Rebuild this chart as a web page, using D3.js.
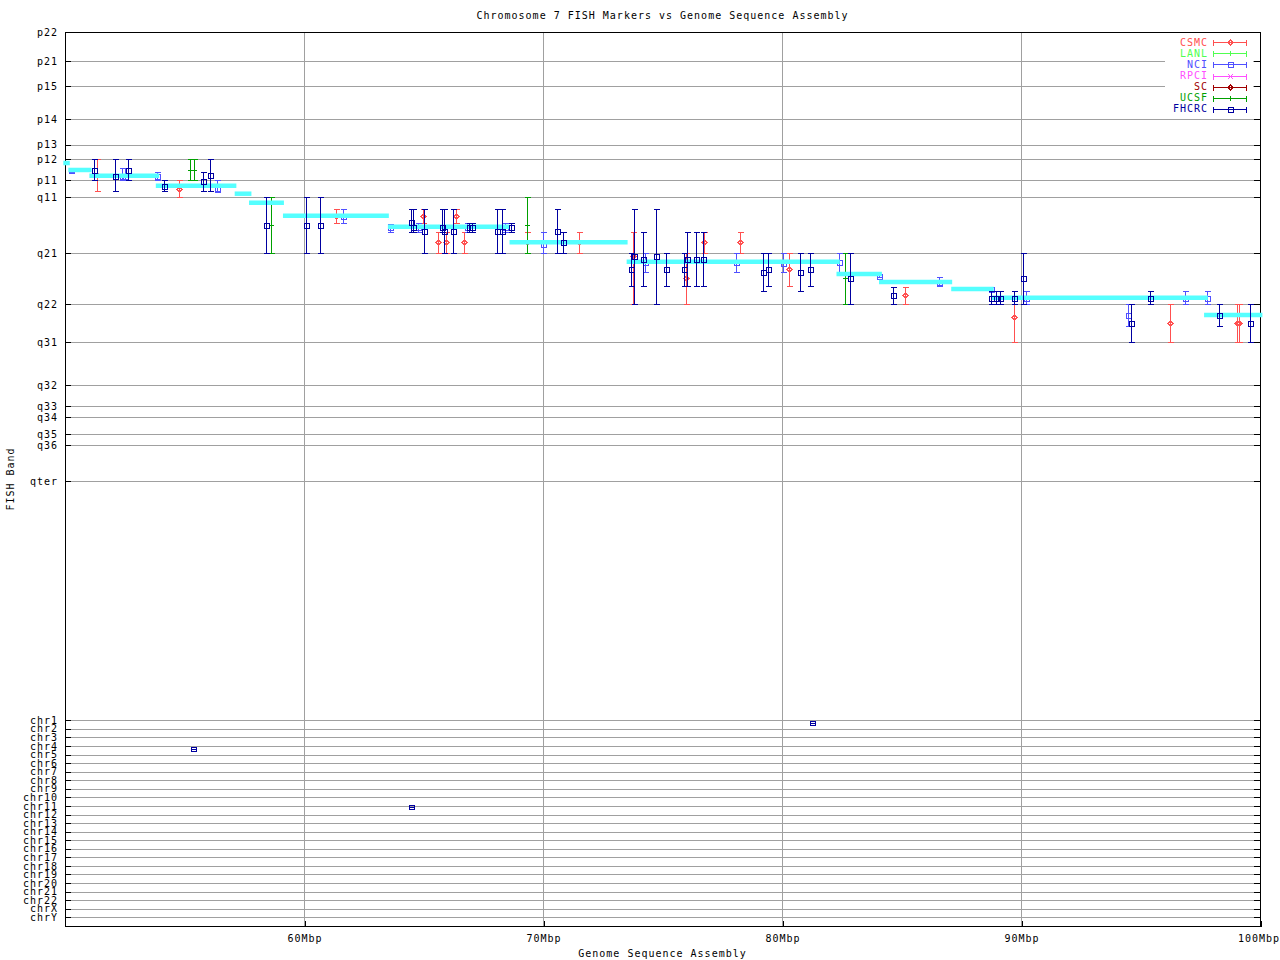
<!DOCTYPE html>
<html><head><meta charset="utf-8">
<script src="https://cdn.jsdelivr.net/npm/d3@7"></script>
<style>
body{margin:0;background:#fff}
text{font-family:"DejaVu Sans Mono",monospace;font-size:10px;letter-spacing:1px}
</style>
</head><body>
<svg id="chart" width="1280" height="960"></svg>
<script>
// ---------------- DATA ----------------
const title = "Chromosome 7 FISH Markers vs Genome Sequence Assembly";
const xLabel = "Genome Sequence Assembly";
const yLabel = "FISH Band";
// band tick labels and their position (percent of chromosome length)
const bandNames = ["p22","p21","p15","p14","p13","p12","p11","q11","q21","q22","q31","q32","q33","q34","q35","q36","qter"];
const bandPos   = [0,6.52,12.09,19.43,25.08,28.33,33.01,36.79,49.25,60.61,69.06,78.63,83.31,85.76,89.54,91.99,100];
const chrNames = ["chr1","chr2","chr3","chr4","chr5","chr6","chr7","chr8","chr9","chr10","chr11","chr12","chr13","chr14","chr15","chr16","chr17","chr18","chr19","chr20","chr21","chr22","chrX","chrY"];
const xTicks = [60,70,80,90,100];
const xTickLabels = ["60Mbp","70Mbp","80Mbp","90Mbp","100Mbp"];

const labs = ["CSMC","LANL","NCI","RPCI","SC","UCSF","FHCRC"];
const labColors = ["#ff5050","#50ff50","#5050ff","#ff50ff","#a00000","#00a000","#0000a0"];
const labSymbols = ["diamond","plus","square","cross","diamond","plus","square"];

// consensus band segments: start Mb, end Mb, band position
const segStart = [49.93,50.14,51.02,53.80,57.10,57.70,59.12,63.51,68.60,73.50,82.28,84.06,87.08,88.79,97.66];
const segEnd   = [50.20,51.11,53.94,57.17,57.80,59.16,63.55,68.60,73.54,82.42,84.18,87.12,88.86,97.82,100.1];
const segBand  = [29.16,30.71,31.98,34.21,35.99,37.99,40.89,43.33,46.81,51.12,53.86,55.64,57.20,59.14,62.99];

// markers: [Mb, band low, band mid, band high]
const csmc = [
 [51.33,28.33,31.9,35.46],[54.78,33.01,34.88,36.79],[61.34,39.5,40.89,42.58],[64.98,39.5,40.89,42.58],
 [65.61,44.58,46.81,49.25],[65.94,44.58,46.81,49.25],[66.35,39.5,40.89,42.58],[66.69,44.58,46.81,49.25],
 [69.33,44.58,46.81,49.25],[71.50,44.58,46.81,49.25],[73.76,44.58,49.85,60.61],[75.99,49.25,54.82,60.61],
 [76.73,44.58,46.81,49.25],[78.23,44.58,46.81,49.25],[80.28,49.25,52.82,56.6],[85.13,56.69,58.54,60.61],
 [89.69,60.61,63.50,69.06],[96.22,60.61,64.83,69.06],[99.05,60.61,64.83,69.06],[99.12,60.61,64.83,69.06]
];
const lanl = [];
const nci = [
 [50.25,30.34,30.71,31.23],[52.40,30.34,31.98,33.01],[52.51,30.34,31.98,33.01],[53.86,31.23,32.05,33.01],
 [56.37,33.01,34.88,35.46],[61.65,39.5,40.89,42.58],[63.59,42.67,43.40,44.58],[64.76,42.62,43.40,44.58],
 [66.82,42.58,43.40,44.58],[68.41,42.58,43.40,44.58],[69.99,44.58,47.19,49.25],[74.28,49.25,51.19,53.48],
 [78.09,49.25,51.19,53.48],[80.06,49.25,51.48,53.48],[82.37,49.25,51.19,53.48],[84.04,53.87,54.31,54.64],
 [86.55,54.60,55.64,56.53],[88.76,56.69,57.20,57.71],[90.19,57.71,59.20,60.61],[94.49,60.61,62.99,65.43],
 [96.85,57.71,59.20,60.61],[97.77,57.71,59.20,60.61]
];
const rpci = [];
const sc = [];
const ucsf = [
 [55.24,28.33,30.71,33.01],[55.39,28.33,30.71,33.01],[58.63,36.79,43.02,49.25],[69.33,36.79,43.02,49.25],
 [82.64,49.25,54.82,60.61]
];
const fhcrc = [
 [51.22,28.33,30.71,33.01],[52.09,28.33,31.98,35.46],[52.65,28.33,30.71,33.01],[54.15,33.01,34.28,35.46],
 [55.78,31.23,33.16,35.46],[56.07,28.33,31.89,35.46],[58.42,36.79,43.02,49.25],[60.09,36.79,43.02,49.25],
 [60.66,36.79,43.02,49.25],[64.49,39.5,42.18,44.58],[64.58,39.5,43.40,44.58],[65.02,39.5,44.36,49.25],
 [65.77,39.5,43.40,44.58],[65.86,39.5,44.36,49.25],[66.23,39.5,44.36,49.25],[66.92,42.62,43.40,44.58],
 [67.03,42.62,43.40,44.58],[68.08,39.5,44.36,49.25],[68.29,39.5,44.36,49.25],[68.67,42.58,43.40,44.58],
 [70.58,39.5,44.36,49.25],[70.83,44.58,46.81,49.25],[73.69,49.25,52.82,56.53],[73.80,39.46,49.85,60.61],
 [74.17,44.58,50.59,56.53],[74.73,39.46,49.85,60.61],[75.14,49.25,52.82,56.53],[75.92,49.25,52.82,56.53],
 [76.02,44.58,50.59,56.53],[76.39,44.58,50.59,56.53],[76.69,44.58,50.59,56.53],[79.19,49.25,53.48,57.71],
 [79.40,49.25,52.82,56.53],[80.74,49.25,53.48,57.71],[81.16,49.25,52.82,56.53],[82.83,49.25,54.82,60.61],
 [84.63,56.69,58.54,60.61],[88.76,57.71,59.20,60.61],[88.95,57.71,59.20,60.61],[89.11,57.71,59.20,60.61],
 [89.69,57.71,59.20,60.61],[90.07,49.25,54.82,60.61],[94.59,60.61,64.83,69.06],[95.41,57.71,59.20,60.61],
 [98.28,60.61,62.99,65.43],[99.59,60.61,64.83,69.06]
];
// markers placed on other chromosomes: [Mb, chromosome index (0 = chr1)]
const fhcrcOther = [[55.36,3.35],[64.46,10.1],[81.27,0.35]];

const markersByLab = [csmc, lanl, nci, rpci, sc, ucsf, fhcrc];

// ---------------- CHART ----------------
const svg = d3.select("#chart");
const L = 65, R = 1260, T = 32, B = 926;
const x = d3.scaleLinear().domain([50,100]).range([L,R]);
const yB = d3.scaleLinear().domain([0,100]).range([32,481.3]);
const yC = d3.scaleLinear().domain([0,23]).range([720.3,917.3]);
const s = v => Math.round(v) + 0.5;
const grid = "#a0a0a0";

svg.append("rect").attr("width",1280).attr("height",960).attr("fill","#fff");

const gGrid = svg.append("g").attr("shape-rendering","crispEdges");
bandPos.forEach(v => gGrid.append("line").attr("x1",L).attr("x2",R).attr("y1",s(yB(v))).attr("y2",s(yB(v))).attr("stroke",grid));
chrNames.forEach((c,i) => gGrid.append("line").attr("x1",L).attr("x2",R).attr("y1",s(yC(i))).attr("y2",s(yC(i))).attr("stroke",grid));
xTicks.filter(t => t < 100).forEach(t => gGrid.append("line").attr("x1",s(x(t))).attr("x2",s(x(t))).attr("y1",T).attr("y2",B).attr("stroke",grid));

const tickVals = bandPos.map((v,i)=>({v,l:bandNames[i],c:false})).concat(chrNames.map((c,i)=>({v:i,l:c,c:true})));
const gAx = svg.append("g").attr("shape-rendering","crispEdges");
tickVals.forEach(t => {
  const yy = s(t.c ? yC(t.v) : yB(t.v));
  gAx.append("line").attr("x1",L).attr("x2",L+6).attr("y1",yy).attr("y2",yy).attr("stroke","#000");
  gAx.append("line").attr("x1",R-6).attr("x2",R+1).attr("y1",yy).attr("y2",yy).attr("stroke","#000");
});
svg.append("g").selectAll("text").data(tickVals).join("text")
  .attr("x",L-7).attr("y",d => (d.c ? yC(d.v) : yB(d.v)))
  .attr("dy","0.36em").attr("text-anchor","end").attr("fill","#000").text(d=>d.l);

const xAxis = d3.axisBottom(x).tickValues(xTicks).tickFormat((d,i)=>xTickLabels[i]).tickSizeInner(-6).tickSizeOuter(0).tickPadding(8);
const gx = svg.append("g").attr("transform",`translate(0.5,${B+0.5})`).call(xAxis);
gx.select(".domain").remove();
gx.selectAll("line").attr("stroke","#000").attr("shape-rendering","crispEdges");
gx.selectAll("text").attr("font-family","DejaVu Sans Mono").attr("font-size",10).attr("fill","#000");
gx.selectAll(".tick:last-of-type text").attr("dx","-2");

svg.append("rect").attr("x",L+0.5).attr("y",T+0.5).attr("width",R-L).attr("height",B-T)
  .attr("fill","none").attr("stroke","#000").attr("shape-rendering","crispEdges");

svg.append("text").attr("x",(L+R)/2).attr("y",19).attr("text-anchor","middle").text(title);
svg.append("text").attr("x",(L+R)/2).attr("y",957).attr("text-anchor","middle").text(xLabel);
svg.append("text").attr("transform",`translate(14,${(T+B)/2}) rotate(-90)`).attr("text-anchor","middle").text(yLabel);

function symbol(g, type, cx, cy, color, r=2.5) {
  cx = Math.round(cx)+0.5; cy = Math.round(cy)+0.5;
  if (type==="square") g.append("rect").attr("x",cx-r).attr("y",cy-r).attr("width",2*r).attr("height",2*r).attr("fill","none").attr("stroke",color);
  else if (type==="diamond") g.append("path").attr("d",`M${cx-r},${cy}L${cx},${cy-r}L${cx+r},${cy}L${cx},${cy+r}Z`).attr("fill","none").attr("stroke",color);
  else if (type==="plus") g.append("path").attr("d",`M${cx-r},${cy}H${cx+r}M${cx},${cy-r}V${cy+r}`).attr("stroke",color);
  else if (type==="cross") g.append("path").attr("d",`M${cx-r},${cy-r}L${cx+r},${cy+r}M${cx-r},${cy+r}L${cx+r},${cy-r}`).attr("stroke",color);
}
function drawMarkers(li) {
  const g = svg.append("g").attr("shape-rendering","crispEdges");
  const col = labColors[li];
  markersByLab[li].forEach(d => {
    const xx = s(x(d[0])), y1 = s(yB(d[1])), y2 = s(yB(d[3]));
    g.append("line").attr("x1",xx).attr("x2",xx).attr("y1",y1).attr("y2",y2).attr("stroke",col);
    g.append("line").attr("x1",xx-2.5).attr("x2",xx+3).attr("y1",y1).attr("y2",y1).attr("stroke",col);
    g.append("line").attr("x1",xx-2.5).attr("x2",xx+3).attr("y1",y2).attr("y2",y2).attr("stroke",col);
    symbol(g, labSymbols[li], x(d[0]), yB(d[2]), col);
  });
}
[0,1,2,3,4,5].forEach(drawMarkers);

svg.append("g").selectAll("line").data(segStart).join("line")
  .attr("x1",(d)=>x(d)).attr("x2",(d,i)=>x(segEnd[i]))
  .attr("y1",(d,i)=>yB(segBand[i])).attr("y2",(d,i)=>yB(segBand[i]))
  .attr("stroke","#55ffff").attr("stroke-width",4.5);

drawMarkers(6);
const gO = svg.append("g").attr("shape-rendering","crispEdges");
fhcrcOther.forEach(d => {
  const cx = Math.round(x(d[0]))+0.5, cy = Math.round(yC(d[1]))+0.5;
  gO.append("rect").attr("x",cx-2.5).attr("y",cy-2).attr("width",5).attr("height",4).attr("fill","none").attr("stroke",labColors[6]);
  gO.append("line").attr("x1",cx-2.5).attr("x2",cx+2.5).attr("y1",cy).attr("y2",cy).attr("stroke",labColors[6]);
});

const ly = d3.scaleLinear().domain([0,6]).range([42.3,108.7]);
const gL = svg.append("g");
gL.append("rect").attr("x",1165).attr("y",35).attr("width",88).attr("height",79).attr("fill","#fff");
labs.forEach((lab,i) => {
  const yy = s(ly(i)), col = labColors[i];
  gL.append("text").attr("x",1208).attr("y",ly(i)).attr("dy","0.36em").attr("text-anchor","end").attr("fill",col).text(lab);
  const g = gL.append("g").attr("shape-rendering","crispEdges");
  g.append("line").attr("x1",1213).attr("x2",1247).attr("y1",yy).attr("y2",yy).attr("stroke",col);
  g.append("line").attr("x1",s(1213)).attr("x2",s(1213)).attr("y1",yy-2.5).attr("y2",yy+3).attr("stroke",col);
  g.append("line").attr("x1",s(1246)).attr("x2",s(1246)).attr("y1",yy-2.5).attr("y2",yy+3).attr("stroke",col);
  symbol(g, labSymbols[i], 1230, ly(i), col, 2.5);
});
</script>
</body></html>
